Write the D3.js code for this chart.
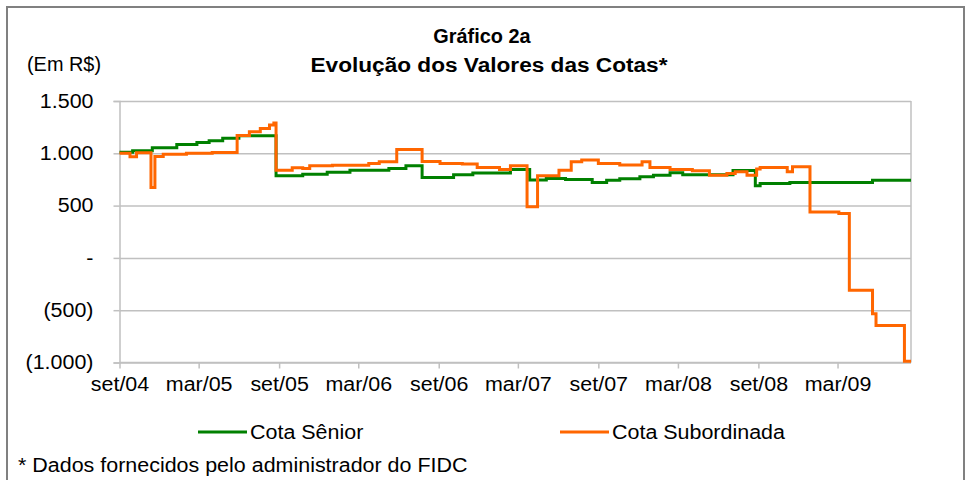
<!DOCTYPE html>
<html>
<head>
<meta charset="utf-8">
<script src="https://cdn.jsdelivr.net/npm/d3@7"></script>
<style>
  body { margin: 0; background: #fff; }
  svg { display: block; font-family: "Liberation Sans", Arial, sans-serif; }
</style>
</head>
<body>
<div id="chart"></div>
<script>
// Cota Sênior, [date, value]
var seniorData = [
    ["2004-09-01", 1010], ["2004-10-01", 1025], ["2004-11-15", 1053], ["2005-01-10", 1085],
    ["2005-02-25", 1104], ["2005-03-25", 1120], ["2005-04-25", 1143], ["2005-06-01", 1168],
    ["2005-08-25", 786], ["2005-10-25", 800], ["2005-12-20", 818], ["2006-02-10", 838],
    ["2006-05-10", 855], ["2006-06-18", 880], ["2006-07-25", 768], ["2006-10-05", 795],
    ["2006-11-18", 812], ["2007-02-12", 845], ["2007-03-28", 745], ["2007-05-05", 760],
    ["2007-06-18", 750], ["2007-08-18", 722], ["2007-09-20", 743], ["2007-10-20", 756],
    ["2007-12-05", 775], ["2008-01-05", 791], ["2008-02-12", 815], ["2008-03-12", 795],
    ["2008-07-05", 835], ["2008-08-25", 690], ["2008-09-05", 712], ["2008-11-12", 721],
    ["2009-05-20", 743], ["2009-08-16", 743]
];

// Cota Subordinada, [date, value]
var subordinadaData = [
    ["2004-09-01", 1000], ["2004-09-25", 966], ["2004-10-10", 1005], ["2004-11-12", 673],
    ["2004-11-21", 970], ["2004-12-10", 990], ["2005-02-01", 1000], ["2005-04-01", 1008],
    ["2005-05-28", 1170], ["2005-06-25", 1205], ["2005-07-20", 1238], ["2005-08-10", 1270],
    ["2005-08-20", 1290], ["2005-08-25", 838], ["2005-10-01", 862], ["2005-10-25", 855],
    ["2005-11-10", 880], ["2006-01-01", 885], ["2006-03-25", 903], ["2006-04-18", 919],
    ["2006-05-28", 1037], ["2006-07-25", 922], ["2006-09-04", 903], ["2006-10-25", 897],
    ["2006-11-28", 865], ["2007-01-18", 846], ["2007-02-12", 880], ["2007-03-22", 488],
    ["2007-04-15", 785], ["2007-06-03", 839], ["2007-07-01", 919], ["2007-07-25", 935],
    ["2007-09-01", 903], ["2007-10-20", 887], ["2007-12-10", 919], ["2007-12-28", 865],
    ["2008-02-12", 846], ["2008-04-03", 832], ["2008-05-12", 791], ["2008-06-21", 807],
    ["2008-07-10", 823], ["2008-08-06", 791], ["2008-08-28", 850], ["2008-09-05", 865],
    ["2008-11-06", 823], ["2008-11-18", 871], ["2008-12-28", 440], ["2009-03-04", 425],
    ["2009-03-28", -310], ["2009-05-20", -534], ["2009-05-28", -646], ["2009-08-01", -988],
    ["2009-08-16", -988]
];

var xTickDates = ["2004-09-01", "2005-03-01", "2005-09-01", "2006-03-01", "2006-09-01",
    "2007-03-01", "2007-09-01", "2008-03-01", "2008-09-01", "2009-03-01"];
var xTickLabels = ["set/04", "mar/05", "set/05", "mar/06", "set/06",
    "mar/07", "set/07", "mar/08", "set/08", "mar/09"];
var yTickValues = [1500, 1000, 500, 0, -500, -1000];
var yTickLabels = ["1.500", "1.000", "500", "-", "(500)", "(1.000)"];

var seriesNames = ["Cota Sênior", "Cota Subordinada"];
var seriesColors = ["#008000", "#ff6600"];

// Setting chart parameters
var properties = { width: 969, height: 480 };
var plot = { left: 119.5, right: 911, top: 101, bottom: 362.5 };
var fontSize = 19.5;
var stretch = 1.1;

var parseDate = d3.timeParse("%Y-%m-%d");

var svg = d3.select("#chart")
    .append("svg")
    .attr("width", properties.width)
    .attr("height", properties.height);

// Outer frame
svg.append("rect")
    .attr("x", 7).attr("y", 7)
    .attr("width", 957).attr("height", 480)
    .attr("fill", "#fff")
    .attr("stroke", "#808080")
    .attr("stroke-width", 2);

var x = d3.scaleTime()
    .domain([parseDate("2004-09-01"), parseDate("2009-08-16")])
    .range([plot.left, plot.right]);

var y = d3.scaleLinear()
    .domain([-1000, 1500])
    .range([plot.bottom, plot.top]);

// widen text a little, like the reference
function widen(sel, factor) {
    sel.each(function () {
        var w = this.getComputedTextLength();
        d3.select(this).attr("textLength", w * factor).attr("lengthAdjust", "spacingAndGlyphs");
    });
}

// Gridlines
var grid = svg.append("g")
    .attr("transform", "translate(" + plot.left + ",0)")
    .call(d3.axisLeft(y).tickValues(yTickValues).tickSize(-(plot.right - plot.left)).tickFormat(""));
grid.select(".domain").remove();
grid.selectAll("line").attr("stroke", "#c0c0c0").attr("stroke-width", 1.5);

// Plot area border (right side)
svg.append("line")
    .attr("x1", plot.right).attr("x2", plot.right)
    .attr("y1", plot.top).attr("y2", plot.bottom)
    .attr("stroke", "#c0c0c0").attr("stroke-width", 1.5);

// Y axis
var yAxis = svg.append("g")
    .attr("transform", "translate(" + plot.left + ",0)")
    .call(d3.axisLeft(y).tickValues(yTickValues).tickSize(6).tickPadding(20)
        .tickFormat(function (d, i) { return yTickLabels[i]; }));
yAxis.selectAll("line, .domain").attr("stroke", "#c0c0c0").attr("stroke-width", 1.5);
yAxis.selectAll("text").attr("font-size", fontSize).attr("fill", "#000")
    .attr("font-family", "Liberation Sans, Arial, sans-serif");
widen(yAxis.selectAll("text"), stretch);

// X axis
var xAxis = svg.append("g")
    .attr("transform", "translate(0," + plot.bottom + ")")
    .call(d3.axisBottom(x).tickValues(xTickDates.map(parseDate)).tickSize(6).tickPadding(9)
        .tickFormat(function (d, i) { return xTickLabels[i]; }));
xAxis.selectAll("line, .domain").attr("stroke", "#c0c0c0").attr("stroke-width", 1.5);
xAxis.select(".domain").attr("d", "M" + plot.left + ",0H" + plot.right);
xAxis.selectAll("text").attr("font-size", fontSize).attr("fill", "#000")
    .attr("font-family", "Liberation Sans, Arial, sans-serif");
widen(xAxis.selectAll("text"), stretch);

// Lines
var line = d3.line()
    .curve(d3.curveStepAfter)
    .x(function (d) { return x(parseDate(d[0])); })
    .y(function (d) { return y(d[1]); });

[seniorData, subordinadaData].forEach(function (data, i) {
    svg.append("path")
        .datum(data)
        .attr("fill", "none")
        .attr("stroke", seriesColors[i])
        .attr("stroke-width", 3)
        .attr("d", line);
});

// Titles
var title1 = svg.append("text")
    .attr("x", 482).attr("y", 43)
    .attr("text-anchor", "middle")
    .attr("font-size", fontSize).attr("font-weight", "bold")
    .text("Gráfico 2a");
var title2 = svg.append("text")
    .attr("x", 489).attr("y", 72)
    .attr("text-anchor", "middle")
    .attr("font-size", fontSize).attr("font-weight", "bold")
    .text("Evolução dos Valores das Cotas*");
widen(title1, 1.02);
widen(title2, 1.16);

var unit = svg.append("text")
    .attr("x", 27).attr("y", 71)
    .attr("font-size", fontSize)
    .text("(Em R$)");
widen(unit, 1.02);

// Legend
var legendX = [198, 560];
seriesNames.forEach(function (name, i) {
    svg.append("line")
        .attr("x1", legendX[i]).attr("x2", legendX[i] + 49)
        .attr("y1", 432).attr("y2", 432)
        .attr("stroke", seriesColors[i]).attr("stroke-width", 3);
    var t = svg.append("text")
        .attr("x", legendX[i] + 52).attr("y", 439)
        .attr("font-size", fontSize)
        .text(name);
    widen(t, stretch);
});

// Footnote
var note = svg.append("text")
    .attr("x", 18).attr("y", 472)
    .attr("font-size", fontSize)
    .text("* Dados fornecidos pelo administrador do FIDC");
widen(note, stretch);
</script>
</body>
</html>
